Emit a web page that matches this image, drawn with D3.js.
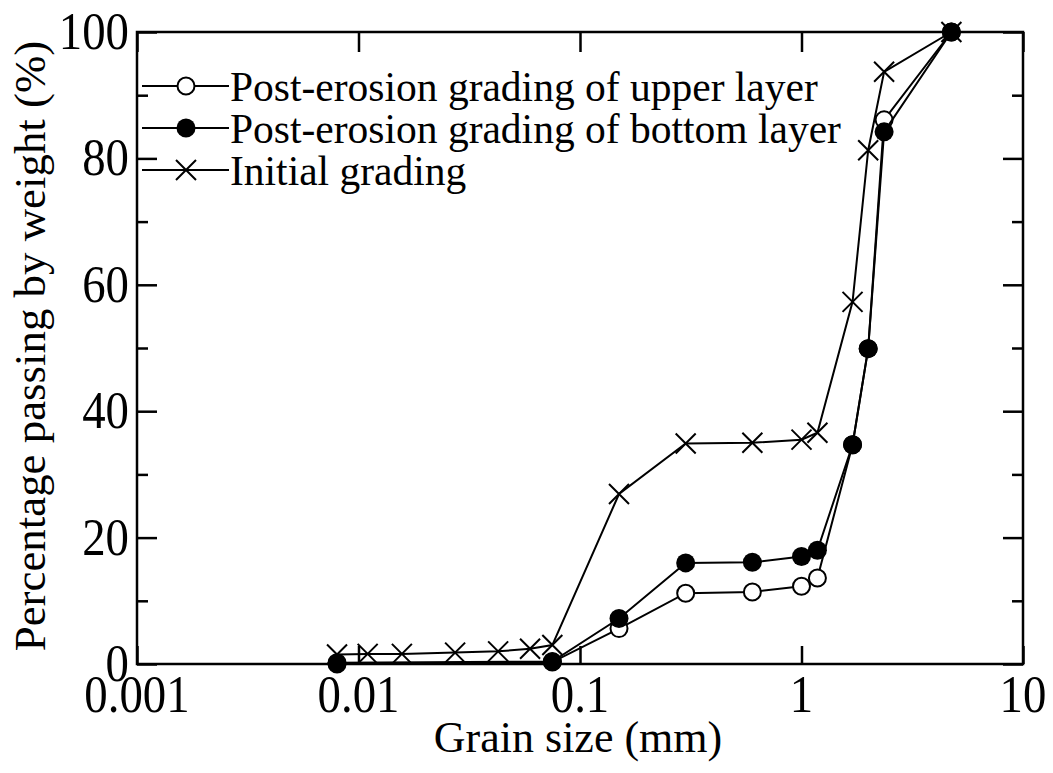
<!DOCTYPE html>
<html><head><meta charset="utf-8">
<script src="https://cdn.jsdelivr.net/npm/d3@7/dist/d3.min.js"></script>
<style>
body{margin:0;background:#fff}
</style></head>
<body>
<svg id="chart" width="1053" height="773"></svg>
<script>
// ---- Data ----
const seriesNames = ["Post-erosion grading of upper layer","Post-erosion grading of bottom layer","Initial grading"];
const upperSize = [0.008,0.075,0.15,0.3,0.6,1.0,1.18,1.7,2.0,2.36,4.75];
const upperPass = [0.0,0.3,5.6,11.2,11.4,12.3,13.6,34.7,49.9,86.1,100];
const bottomSize = [0.008,0.075,0.15,0.3,0.6,1.0,1.18,1.7,2.0,2.36,4.75];
const bottomPass = [0.2,0.4,7.2,16.0,16.1,17.0,18.0,34.7,49.9,84.2,100];
const initialSize = [0.008,0.011,0.0157,0.0273,0.0427,0.0595,0.075,0.15,0.3,0.6,1.0,1.18,1.7,2.0,2.36,4.75];
const initialPass = [1.5,1.6,1.6,1.8,2.0,2.4,3.0,26.9,34.9,35.0,35.5,36.6,57.3,81.3,93.7,100];
const xTicks = [0.001,0.01,0.1,1,10];
const xTickLabels = ["0.001","0.01","0.1","1","10"];
const yTicks = [0,20,40,60,80,100];
const yMinor = [10,30,50,70,90];
const xTitle = "Grain size (mm)";
const yTitle = "Percentage passing by weight (%)";

// ---- Layout ----
const FONT = '"Liberation Serif"';
const L=137, R=1023, T=32, B=664;
const svg = d3.select("#chart");
const x = d3.scaleLog().domain([0.001,10]).range([L,R]);
const y = d3.scaleLinear().domain([0,100]).range([B,T]);

const mk = (s,p)=>s.map((v,i)=>({x:v,y:p[i]}));
const series = [
  {name:seriesNames[0], data:mk(upperSize,upperPass), marker:"open"},
  {name:seriesNames[1], data:mk(bottomSize,bottomPass), marker:"filled"},
  {name:seriesNames[2], data:mk(initialSize,initialPass), marker:"cross"}
];

// Axes (ticks inward) using d3 axis generators
const gB = svg.append("g").attr("transform",`translate(0,${B})`)
  .call(d3.axisBottom(x).tickValues(xTicks).tickSize(-18).tickFormat(""));
const gT = svg.append("g").attr("transform",`translate(0,${T})`)
  .call(d3.axisTop(x).tickValues(xTicks).tickSize(-20).tickFormat(""));
const gL = svg.append("g").attr("transform",`translate(${L},0)`)
  .call(d3.axisLeft(y).tickValues(yTicks).tickSize(-20).tickFormat(""));
const gLm = svg.append("g").attr("transform",`translate(${L},0)`)
  .call(d3.axisLeft(y).tickValues(yMinor).tickSize(-11).tickFormat(""));
const gR = svg.append("g").attr("transform",`translate(${R},0)`)
  .call(d3.axisRight(y).tickValues(yTicks).tickSize(-20).tickFormat(""));
const gRm = svg.append("g").attr("transform",`translate(${R},0)`)
  .call(d3.axisRight(y).tickValues(yMinor).tickSize(-11).tickFormat(""));
[gB,gT,gL,gLm,gR,gRm].forEach(g=>{
  g.selectAll(".domain").remove();
  g.selectAll("line").attr("stroke","#000").attr("stroke-width",2.5);
});
svg.append("rect").attr("x",L).attr("y",T).attr("width",R-L).attr("height",B-T)
  .attr("fill","none").attr("stroke","#000").attr("stroke-width",2.5);

// Tick labels (slightly condensed via horizontal scale)
svg.append("g").selectAll("text").data(xTicks).join("text")
  .attr("transform",d=>`translate(${x(d)},712) scale(0.9,1)`).attr("text-anchor","middle")
  .style("font-family",FONT).attr("font-size",52)
  .text((d,i)=>xTickLabels[i]);
svg.append("g").selectAll("text").data(yTicks).join("text")
  .attr("transform",d=>`translate(129,${y(d)+17}) scale(0.9,1)`).attr("text-anchor","end")
  .style("font-family",FONT).attr("font-size",52)
  .text(d=>d);

// Titles
svg.append("text").attr("x",578).attr("y",752).attr("text-anchor","middle")
  .style("font-family",FONT).attr("font-size",44).text(xTitle);
svg.append("text").attr("transform",`translate(45,346) rotate(-90) scale(1.02,1)`).attr("text-anchor","middle")
  .style("font-family",FONT).attr("font-size",44).text(yTitle);

// Lines and markers
const line = d3.line().x(d=>x(d.x)).y(d=>y(d.y));
function drawMarker(g, type, cx, cy){
  if(type==="open"){
    g.append("circle").attr("cx",cx).attr("cy",cy).attr("r",8.5)
      .attr("fill","#fff").attr("stroke","#000").attr("stroke-width",2);
  } else if(type==="filled"){
    g.append("circle").attr("cx",cx).attr("cy",cy).attr("r",9.5).attr("fill","#000");
  } else {
    const s=10;
    g.append("path").attr("d",`M${cx-s},${cy-s}L${cx+s},${cy+s}M${cx-s},${cy+s}L${cx+s},${cy-s}`)
      .attr("stroke","#000").attr("stroke-width",2).attr("fill","none");
  }
}
series.forEach(s=>{
  const g = svg.append("g");
  g.append("path").datum(s.data).attr("d",line).attr("fill","none")
    .attr("stroke","#000").attr("stroke-width",2);
  s.data.forEach(d=>drawMarker(g, s.marker, x(d.x), y(d.y)));
});

// Legend
const legY = [86,128,170];
series.forEach((s,i)=>{
  const g = svg.append("g");
  g.append("line").attr("x1",142).attr("x2",229).attr("y1",legY[i]).attr("y2",legY[i])
    .attr("stroke","#000").attr("stroke-width",2);
  drawMarker(g, s.marker, 186, legY[i]);
  g.append("text").attr("x",230).attr("y",legY[i]+15)
    .style("font-family",FONT).attr("font-size",41.5).text(s.name);
});
</script>
</body></html>
